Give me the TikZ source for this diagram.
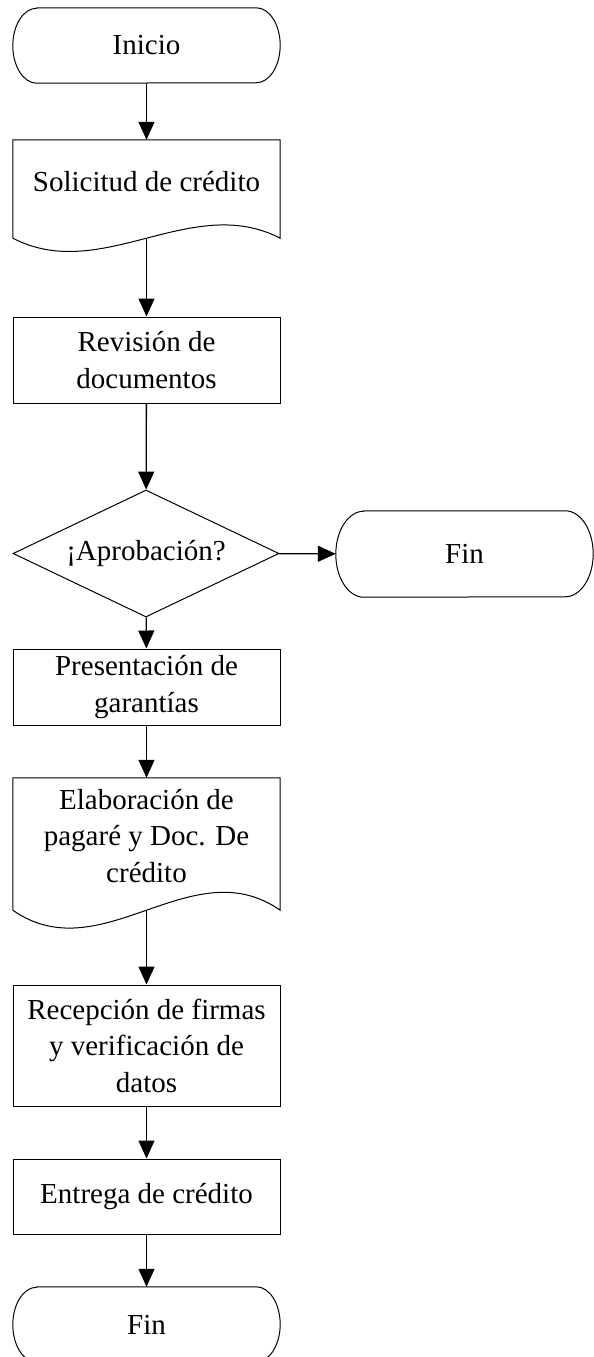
\documentclass[tikz,border=0pt]{standalone}
\usepackage{fontspec}
\setmainfont{Liberation Serif}
\usetikzlibrary{arrows.meta,shapes.geometric}
\newcommand\drawterm[3]{\draw[line width=1pt] ([xshift=#2]#1.north west) -- ([xshift=-#2]#1.north east) arc[start angle=90,end angle=-90,x radius=#2,y radius=#3] -- ([xshift=#2]#1.south west) arc[start angle=270,end angle=90,x radius=#2,y radius=#3] -- cycle;}
\newcommand\drawdoc[2]{\draw[line width=1pt] (#1.south west) -- (#1.north west) -- (#1.north east) -- (#1.south east) .. controls +(-89pt,#2) and +(89pt,-#2) .. (#1.south west);}
\begin{document}
\begin{tikzpicture}[x=1pt,y=1pt,
  every node/.style={font=\fontsize{29}{36.5}\selectfont, align=center, inner sep=0pt},
  term/.style={rectangle, minimum width=267pt, minimum height=75pt},
  box/.style={rectangle, draw, line width=1pt, minimum width=267pt},
  holder/.style={rectangle, minimum width=267pt},
  dec/.style={diamond, draw, line width=1pt, minimum width=266pt, minimum height=127pt, aspect=2.1},
  arr/.style={-{Triangle[length=18pt,width=16pt]}, line width=1.3pt}]
\useasboundingbox (0,0) rectangle (594,-1357);

\node[term] (inicio) at (146.5,-45.5) {Inicio};
\drawterm{inicio}{24pt}{37.5pt}

\node[holder, minimum height=98pt] (sol) at (146.5,-189) {};
\node (solt) at (146.5,-182) {Solicitud de crédito};
\drawdoc{sol}{46pt}

\node[box, minimum height=86pt] (rev) at (146.5,-360) {Revisión de\\documentos};

\node[dec] (apr) at (146,-553.5) {¡Aprobación?};

\node[term, minimum width=257pt, minimum height=86pt] (fin1) at (464.5,-554) {Fin};
\drawterm{fin1}{28pt}{43pt}

\node[box, minimum height=76pt] (pres) at (146.5,-687) {Presentación de\\garantías};

\node[holder, minimum height=132pt] (ela) at (146.5,-844) {};
\node (elat) at (146.5,-836) {Elaboración de\\pagaré y Doc. De\\crédito};
\drawdoc{ela}{62pt}

\node[box, minimum height=121pt] (rec) at (146.5,-1045.5) {Recepción de firmas\\y verificación de\\datos};

\node[box, minimum height=75pt] (ent) at (146.5,-1196.5) {Entrega de crédito};

\node[term] (fin2) at (146.5,-1324.5) {Fin};
\drawterm{fin2}{24pt}{37.5pt}

\draw[arr] (inicio) -- (sol);
\draw[arr] (sol) -- (rev);
\draw[arr] (rev) -- (apr);
\draw[arr] (apr) -- (fin1);
\draw[arr] (apr) -- (pres);
\draw[arr] (pres) -- (ela);
\draw[arr] (ela) -- (rec);
\draw[arr] (rec) -- (ent);
\draw[arr] (ent) -- (fin2);
\end{tikzpicture}
\end{document}
